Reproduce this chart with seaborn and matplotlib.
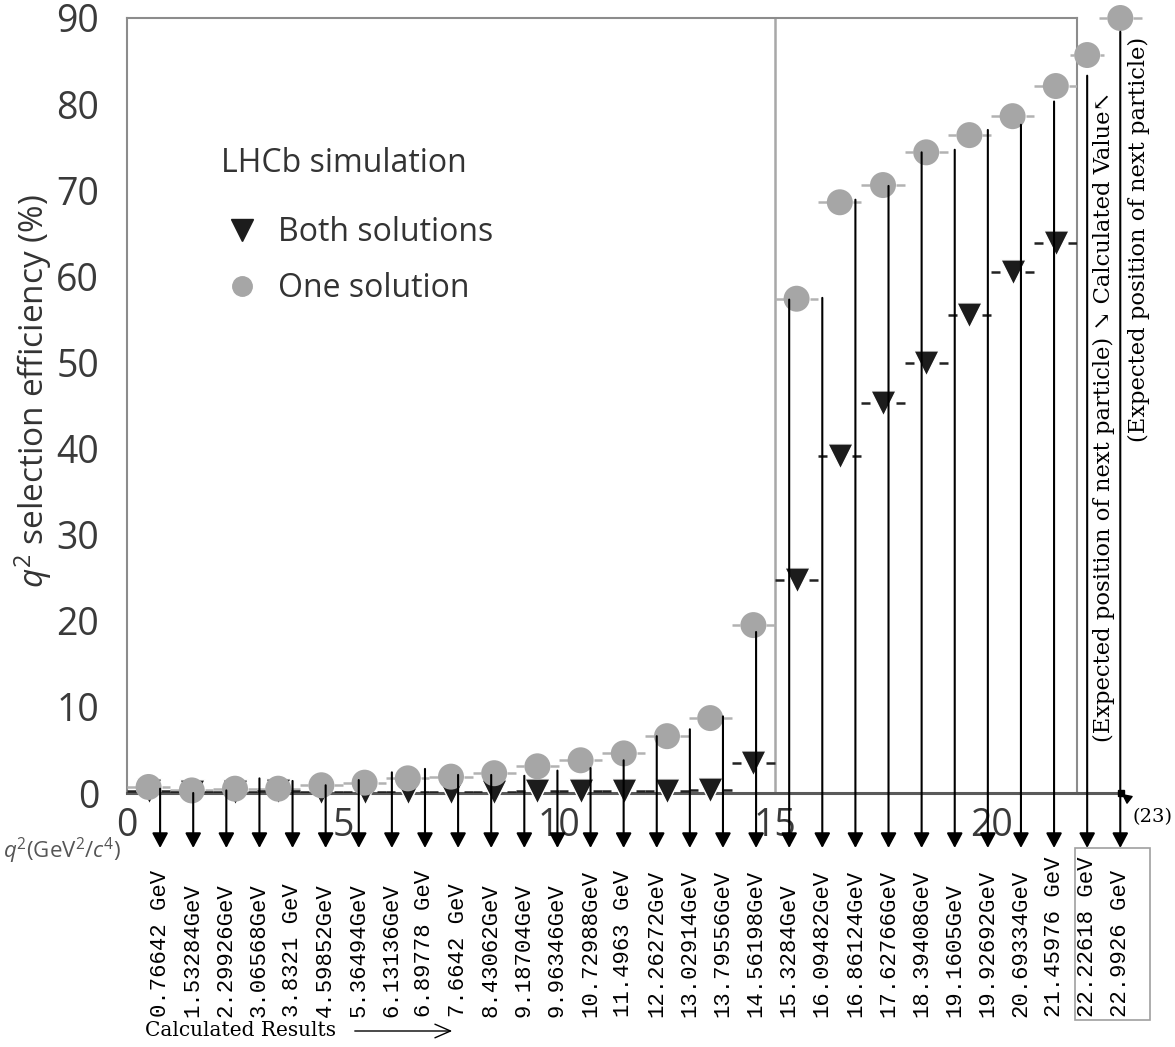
import numpy as np
import pandas as pd
import seaborn as sns
import matplotlib
matplotlib.use("Agg")
import matplotlib.pyplot as plt
import matplotlib.transforms as mtransforms
from matplotlib.lines import Line2D
from matplotlib.patches import Rectangle
from matplotlib.ticker import MultipleLocator

# ---------------- data ----------------
bin_centers = [0.5, 1.5, 2.5, 3.5, 4.5, 5.5, 6.5, 7.5, 8.5, 9.5, 10.5,
               11.5, 12.5, 13.5, 14.5, 15.5, 16.5, 17.5, 18.5, 19.5, 20.5, 21.5]
one_solution = [0.7, 0.3, 0.5, 0.5, 0.9, 1.2, 1.7, 1.9, 2.3, 3.1, 3.8,
                4.6, 6.6, 8.7, 19.5, 57.4, 68.6, 70.6, 74.4, 76.4, 78.6, 82.1]
both_solutions = [0.2, 0.1, 0.1, 0.2, 0.1, 0.1, 0.1, 0.1, 0.1, 0.2, 0.2,
                  0.2, 0.2, 0.3, 3.5, 24.7, 39.1, 45.3, 49.9, 55.5, 60.5, 63.9]
bin_half_width = 0.5

# added points: calculated value and expected position of next particle
calc_x = [22.22618, 22.9926]
calc_eff = [85.7, 90.0]
calc_half_width = [0.4, 0.5]

# calculated results (arrows + rotated labels)
calc_results = [0.76642, 1.53284, 2.29926, 3.06568, 3.8321, 4.59852, 5.36494,
                6.13136, 6.89778, 7.6642, 8.43062, 9.19704, 9.96346, 10.72988,
                11.4963, 12.26272, 13.02914, 13.79556, 14.56198, 15.3284,
                16.09482, 16.86124, 17.62766, 18.39408, 19.1605, 19.92692,
                20.69334, 21.45976, 22.22618, 22.9926]
calc_labels = ["0.76642 GeV", "1.53284GeV", "2.29926GeV", "3.06568GeV",
               "3.8321 GeV", "4.59852GeV", "5.36494GeV", "6.13136GeV",
               "6.89778 GeV", "7.6642 GeV", "8.43062GeV", "9.18704GeV",
               "9.96346GeV", "10.72988GeV", "11.4963 GeV", "12.26272GeV",
               "13.02914GeV", "13.79556GeV", "14.56198GeV", "15.3284GeV",
               "16.09482GeV", "16.86124GeV", "17.62766GeV", "18.39408GeV",
               "19.1605GeV", "19.92692GeV", "20.69334GeV", "21.45976 GeV",
               "22.22618 GeV", "22.9926 GeV"]
arrow_top = [0.5, 0.0, 0.3, 1.7, 1.4, 0.9, 1.5, 2.4, 2.8, 2.1, 2.1, 2.0, 2.6,
             2.9, 3.8, 6.6, 7.4, 8.9, 18.7, 57.3, 57.5, 68.9, 70.5, 74.4,
             74.7, 77.0, 77.6, 80.3, 83.3, 88.4]

x_ticks = [0, 5, 10, 15, 20]
y_ticks = [0, 10, 20, 30, 40, 50, 60, 70, 80, 90]
x_frame_end = 22
x_axis_end = 23
x_divider = 15

# ---------------- style ----------------
sns.set_theme(style="white")
plt.rcParams["font.family"] = ["Open Sans", "DejaVu Sans"]
plt.rcParams["mathtext.fontset"] = "custom"
plt.rcParams["mathtext.rm"] = "Open Sans"
plt.rcParams["mathtext.it"] = "Open Sans:italic"

W, H = 1175, 1047
def fx(px):
    return px / W
def fy(py):
    return 1 - py / H

fig = plt.figure(figsize=(W / 100, H / 100), dpi=100)
fig.patch.set_facecolor("white")
ax = fig.add_axes([fx(127), fy(793), 950.4 / W, 775 / H])
ax.set_facecolor("white")
ax.set_xlim(0, x_frame_end)
ax.set_ylim(0, 90)

frame_grey = "#8c8c8c"
for side in ["left", "top", "right"]:
    ax.spines[side].set_color(frame_grey)
    ax.spines[side].set_linewidth(1.5)
ax.spines["bottom"].set_color("#5a5a5a")
ax.spines["bottom"].set_linewidth(2.2)
ax.axvline(x_divider, color="#a8a8a8", lw=1.8, zorder=1)
ax.plot([x_frame_end, x_axis_end], [0, 0], color="#5a5a5a", lw=2.2,
        clip_on=False, zorder=2)
ax.plot([x_axis_end], [0], marker="s", ms=4, color="black", clip_on=False, zorder=7)

ax.set_xticks(x_ticks)
ax.set_yticks(y_ticks)
ax.xaxis.set_minor_locator(MultipleLocator(1))
ax.yaxis.set_minor_locator(MultipleLocator(2))
tick_grey = "#7a7a7a"
ax.tick_params(axis="x", which="major", direction="in", length=17, width=1.5,
               color=tick_grey, pad=10, labelsize=27, labelcolor="#3a3a3a")
ax.tick_params(axis="x", which="minor", direction="in", length=9, width=1.5,
               color=tick_grey)
ax.tick_params(axis="y", which="major", direction="in", length=19, width=1.5,
               color=tick_grey, pad=20, labelsize=27, labelcolor="#3a3a3a")
ax.tick_params(axis="y", which="minor", direction="in", length=10, width=1.5,
               color=tick_grey)

# ---------------- error bars (gap around markers) ----------------
bc = np.array(bin_centers)
gap_c, gap_t = 0.3, 0.29
ax.hlines(one_solution, bc - bin_half_width, bc - gap_c, color="#b2b2b2", lw=1.8, zorder=3)
ax.hlines(one_solution, bc + gap_c, bc + bin_half_width, color="#b2b2b2", lw=1.8, zorder=3)
ax.hlines(both_solutions, bc - bin_half_width, bc - gap_t, color="#222222", lw=1.8, zorder=3)
ax.hlines(both_solutions, bc + gap_t, bc + bin_half_width, color="#222222", lw=1.8, zorder=3)
cx = np.array(calc_x)
chw = np.array(calc_half_width)
for lo, hi in [(cx - chw, cx - gap_c), (cx + gap_c, cx + chw)]:
    ax.hlines(calc_eff, lo, hi, color="#b2b2b2", lw=1.8, zorder=3, clip_on=False)

# ---------------- markers ----------------
df_both = pd.DataFrame({"q2": bin_centers, "eff": both_solutions})
df_one = pd.DataFrame({"q2": bin_centers, "eff": one_solution})
df_calc = pd.DataFrame({"q2": calc_x, "eff": calc_eff})
sns.scatterplot(data=df_both, x="q2", y="eff", marker="v", s=330,
                color="#1c1c1c", edgecolor="white", linewidth=1.0,
                ax=ax, zorder=4, clip_on=False, legend=False)
sns.scatterplot(data=df_one, x="q2", y="eff", marker="o", s=350,
                color="#a6a6a6", edgecolor="none", linewidth=0,
                ax=ax, zorder=5, clip_on=False, legend=False)
sns.scatterplot(data=df_calc, x="q2", y="eff", marker="o", s=350,
                color="#a6a6a6", edgecolor="none", linewidth=0,
                ax=ax, zorder=5, clip_on=False, legend=False)
ax.set_xlabel("")
ax.set_ylabel("")

# ---------------- arrows and rotated labels ----------------
blend = mtransforms.blended_transform_factory(ax.transData, fig.transFigure)
for xv, top, lab in zip(calc_results, arrow_top, calc_labels):
    ax.annotate("", xy=(xv, fy(848)), xycoords=blend,
                xytext=(xv, top), textcoords="data",
                arrowprops=dict(arrowstyle="-|>,head_length=0.6,head_width=0.32",
                                color="black", lw=1.5, mutation_scale=15,
                                shrinkA=0, shrinkB=0),
                annotation_clip=False, zorder=8)
    ax.text(xv, fy(1017), lab, transform=blend, rotation=90, ha="center",
            va="bottom", fontsize=16, color="black",
            family=["Liberation Mono", "DejaVu Sans Mono"])

# box around the last two results
fig.patches.append(Rectangle((fx(1075), fy(1020)), fx(1150) - fx(1075),
                             fy(848) - fy(1020), transform=fig.transFigure,
                             fill=False, edgecolor="#a0a0a0", lw=1.2))

# ---------------- axis labels ----------------
ax.set_ylabel(r"$q^2$ selection efficiency (%)", fontsize=24, color="#333333",
              va="center")
ax.yaxis.set_label_coords((33 - 127) / 950.4, (793 - 391) / 775)
fig.text(fx(3), fy(851), r"$q^2$(GeV$^2$/$c^4$)", fontsize=16, color="#555555",
         ha="left", va="center")

# ---------------- legend ----------------
fig.text(fx(221), fy(163), "LHCb simulation", ha="left", va="center",
         fontsize=23, color="#333333")
handles = [Line2D([], [], marker="v", ls="none", color="#1c1c1c", ms=16),
           Line2D([], [], marker="o", ls="none", color="#a6a6a6", ms=14)]
leg = ax.legend(handles, ["Both solutions", "One solution"],
                loc="upper left",
                bbox_to_anchor=(fx(204), fy(194)), bbox_transform=fig.transFigure,
                frameon=False, fontsize=23,
                handlelength=1.0, handletextpad=0.62, labelspacing=0.72,
                borderpad=0.2)
for t in leg.get_texts():
    t.set_color("#333333")

# ---------------- annotations ----------------
serif = ["DejaVu Serif", "DejaVu Sans"]
fig.text(fx(145), fy(1031), "Calculated Results", ha="left", va="center",
         fontsize=14.5, family=serif, color="black")
ax.annotate("", xy=(fx(455), fy(1031)), xycoords="figure fraction",
            xytext=(fx(352), fy(1031)), textcoords="figure fraction",
            arrowprops=dict(arrowstyle="->,head_length=0.8,head_width=0.35",
                            color="black", lw=1.0, mutation_scale=14),
            annotation_clip=False)
fig.text(fx(1104), fy(742), "(Expected position of next particle) \u2198 Calculated Value\u2196",
         rotation=90, ha="center", va="bottom", fontsize=16.3, family=serif, color="black")
fig.text(fx(1139), fy(442), "(Expected position of next particle)",
         rotation=90, ha="center", va="bottom", fontsize=16.3, family=serif, color="black")
ax.annotate("(23)", xy=(x_axis_end, 0), xycoords="data",
            xytext=(fx(1152), fy(817)), textcoords="figure fraction",
            ha="center", va="center", fontsize=14, family=serif, color="black",
            arrowprops=dict(arrowstyle="-|>,head_length=0.5,head_width=0.25",
                            color="black", lw=1.0, mutation_scale=12,
                            shrinkA=9, shrinkB=1),
            annotation_clip=False)

fig.savefig("out.png", dpi=100, facecolor="white")
